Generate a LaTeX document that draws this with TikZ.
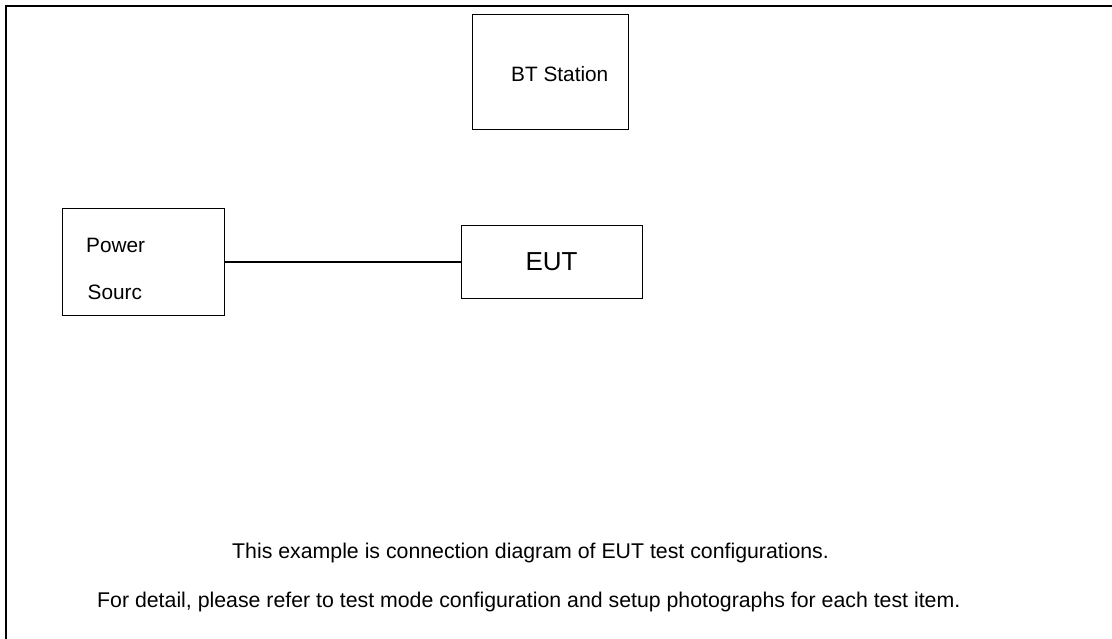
\documentclass[tikz,border=0pt]{standalone}
\usepackage{fontspec}
\setmainfont{Liberation Sans}
\begin{document}
\begin{tikzpicture}[x=1pt,y=-1pt,
  box/.style={draw, line width=1pt, inner sep=0pt},
  txt/.style={inner sep=0pt, anchor=base west, font=\fontsize{20.8}{24}\selectfont},
  note/.style={txt, font=\fontsize{21.3}{25}\selectfont},
  wire/.style={line width=1.3pt},
  frame/.style={line width=2pt}]
\useasboundingbox (0,0) rectangle (1112,638);
% page frame: only the top and left edges fall inside the sheet
\coordinate (fbl) at (6,640);
\coordinate (ftl) at (6,6);
\coordinate (ftr) at (1114,6);
\draw[frame] (fbl) -- (ftl) -- (ftr);

% Bluetooth test station
\node[box, minimum width=156pt, minimum height=115pt] (bt) at (550,71.5) {};
\node[txt] (btlabel) at (511,81) {BT Station};

% power supply
\node[box, minimum width=162pt, minimum height=107pt] (power) at (143.7,262) {};
\node[txt] (pwa) at (86,252) {Power};
\node[txt] (pwb) at (87.5,299) {Sourc};

% equipment under test
\node[box, minimum width=181pt, minimum height=72.3pt, font=\fontsize{26}{30}\selectfont] (eut) at (551.5,262) {EUT};

\draw[wire] (power.east) -- (eut.west);

% notes
\node[note] (notea) at (232,558) {This example is connection diagram of EUT test configurations.};
\node[note] (noteb) at (97,607) {For detail, please refer to test mode configuration and setup photographs for each test item.};
\end{tikzpicture}
\end{document}
